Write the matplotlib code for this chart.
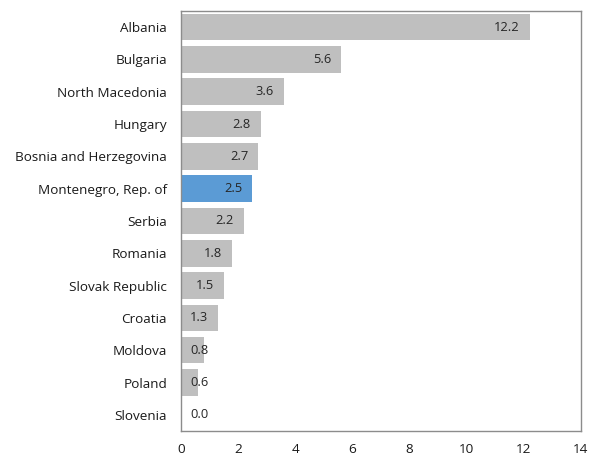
import matplotlib.pyplot as plt

countries = ["Albania", "Bulgaria", "North Macedonia", "Hungary",
             "Bosnia and Herzegovina", "Montenegro, Rep. of", "Serbia",
             "Romania", "Slovak Republic", "Croatia", "Moldova", "Poland",
             "Slovenia"]
values = [12.2, 5.6, 3.6, 2.8, 2.7, 2.5, 2.2, 1.8, 1.5, 1.3, 0.8, 0.6, 0.0]
highlight = "Montenegro, Rep. of"
xticks = [0, 2, 4, 6, 8, 10, 12, 14]

plt.rcParams['font.family'] = ['Open Sans', 'DejaVu Sans']

fig = plt.figure(figsize=(5.96, 4.57), dpi=100)
ax = fig.add_axes([0.3037, 0.0569, 0.6711, 0.9191])

colors = ["#5b9bd5" if c == highlight else "#bfbfbf" for c in countries]
ypos = range(len(countries))
ax.barh(ypos, values, height=0.82, color=colors)
ax.set_yticks(list(ypos))
ax.set_yticklabels(countries, fontsize=9.7, color="#1a1a1a")
ax.set_ylim(len(countries) - 0.5, -0.5)
ax.set_xlim(0, 14)
ax.set_xticks(xticks)
ax.set_xticklabels([str(t) for t in xticks], fontsize=9.7, color="#1a1a1a")
ax.tick_params(axis="y", length=0, pad=10)
ax.tick_params(axis="x", length=0, pad=9)

for s in ax.spines.values():
    s.set_color("#8c8c8c")
    s.set_linewidth(1.0)

# value labels sit inside the bar end, pushed right for very short bars
for i, v in enumerate(values):
    xr = max(v - 0.35, 0.95)
    ax.text(xr, i, f"{v:.1f}", ha="right", va="center",
            fontsize=9.3, color="#262626")

fig.savefig("out.png", dpi=100)
